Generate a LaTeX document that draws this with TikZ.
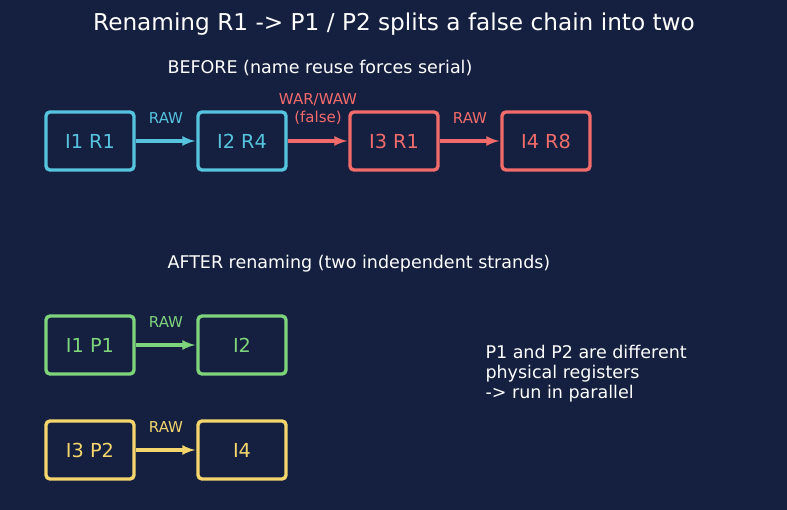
\documentclass[tikz,border=0pt]{standalone}
\usepackage{fontspec}
\setmainfont{DejaVu Sans}
\usepackage{xcolor}
\definecolor{bgnavy}{HTML}{152040}
\definecolor{regcyan}{HTML}{56C4DF}
\definecolor{regred}{HTML}{F26B6B}
\definecolor{reggreen}{HTML}{7ED47B}
\definecolor{regyellow}{HTML}{F4D66C}

\begin{document}
\begin{tikzpicture}[x=1pt,y=-1pt,>=latex,
  insn/.style={draw,line width=3.4pt,rounded corners=4pt,minimum width=88pt,minimum height=58pt,font=\fontsize{19.3}{22}\selectfont},
  dep/.style={->,line width=3.4pt,shorten >=1pt},
  deplabel/.style={font=\fontsize{15}{18}\selectfont}]

\fill[bgnavy] (0,0) rectangle (787,510);
\useasboundingbox (0,0) rectangle (787,510);

\node[white,font=\fontsize{23.2}{26}\selectfont] (title) at (394,24) {Renaming R1 -> P1 / P2 splits a false chain into two};

% before
\node[white,anchor=west,font=\fontsize{17.5}{20}\selectfont] (before) at (164,68) {BEFORE (name reuse forces serial)};

\node[insn,regcyan] (i1) at (90,141) {I1 R1};
\node[insn,regcyan] (i2) at (242,141) {I2 R4};
\node[insn,regred] (i3) at (394,141) {I3 R1};
\node[insn,regred] (i4) at (546,141) {I4 R8};

\draw[dep,regcyan] (i1) -- (i2);
\node[deplabel,regcyan] (l12) at (166,118) {RAW};

\draw[dep,regred] (i2) -- (i3);
\node[deplabel,regred,align=center] (l23) at (318,109) {WAR/WAW\\(false)};

\draw[dep,regred] (i3) -- (i4);
\node[deplabel,regred] (l34) at (470,118) {RAW};

% after
\node[white,anchor=west,font=\fontsize{17.5}{20}\selectfont] (after) at (164,264) {AFTER renaming (two independent strands)};

\node[insn,reggreen] (p1) at (90,345) {I1 P1};
\node[insn,reggreen] (p2) at (242,345) {I2};
\draw[dep,reggreen] (p1) -- (p2);
\node[deplabel,reggreen] (lp) at (166,322) {RAW};

\node[insn,regyellow] (q3) at (90,450) {I3 P2};
\node[insn,regyellow] (q4) at (242,450) {I4};
\draw[dep,regyellow] (q3) -- (q4);
\node[deplabel,regyellow] (lq) at (166,427) {RAW};

\node[white,anchor=west,align=left,font=\fontsize{17.5}{20}\selectfont] (note) at (482,374) {P1 and P2 are different\\physical registers\\-> run in parallel};

\end{tikzpicture}
\end{document}
